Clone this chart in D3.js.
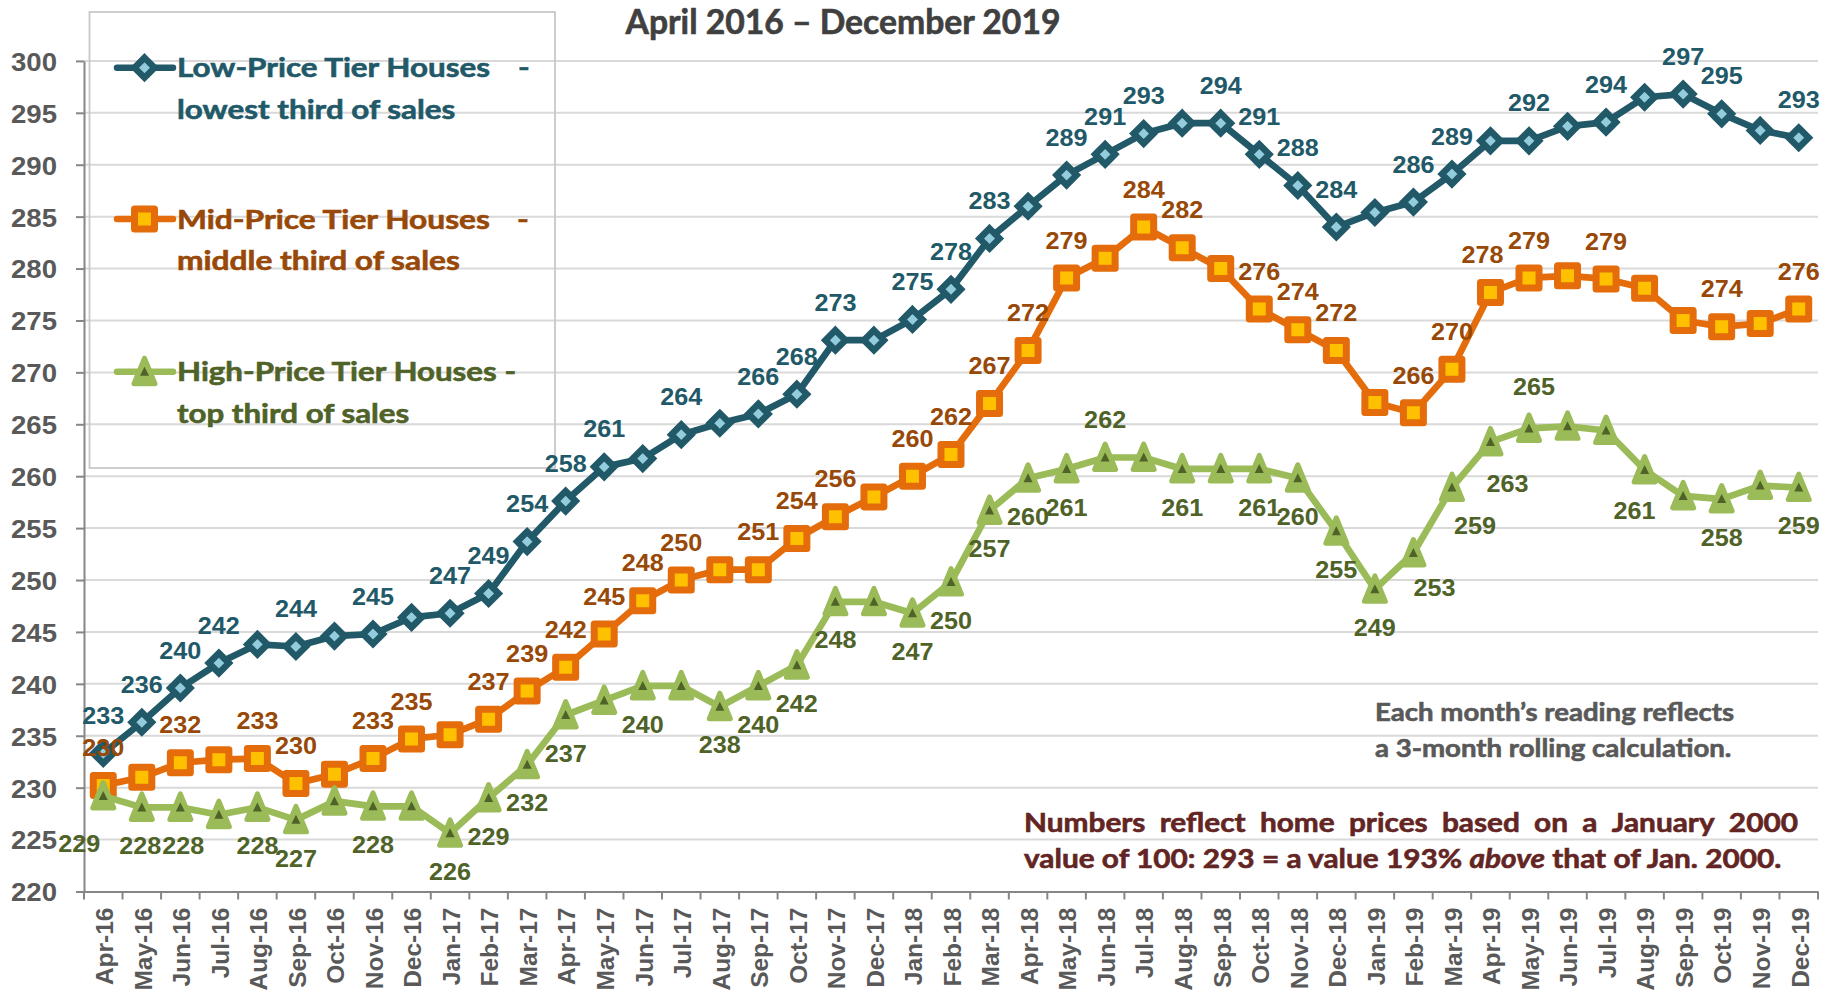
<!DOCTYPE html>
<html><head><meta charset="utf-8">
<script src="https://d3js.org/d3.v7.min.js"></script>
<style>body{margin:0;background:#fff}svg{display:block}</style>
</head><body>
<svg id="c" width="1835" height="999"></svg>
<script>
// ---------------- DATA ----------------
const months = ["Apr-16","May-16","Jun-16","Jul-16","Aug-16","Sep-16","Oct-16","Nov-16","Dec-16",
  "Jan-17","Feb-17","Mar-17","Apr-17","May-17","Jun-17","Jul-17","Aug-17","Sep-17","Oct-17","Nov-17","Dec-17",
  "Jan-18","Feb-18","Mar-18","Apr-18","May-18","Jun-18","Jul-18","Aug-18","Sep-18","Oct-18","Nov-18","Dec-18",
  "Jan-19","Feb-19","Mar-19","Apr-19","May-19","Jun-19","Jul-19","Aug-19","Sep-19","Oct-19","Nov-19","Dec-19"];
const lowValues = [233.3,236.3,239.6,242.0,243.8,243.6,244.6,244.8,246.4,246.8,248.7,253.7,257.6,260.9,261.7,
  264.0,265.1,266.0,267.9,273.1,273.1,275.1,278.0,282.9,286.0,289.0,291.0,293.0,294.0,294.0,291.0,288.0,284.0,
  285.4,286.4,289.1,292.3,292.3,293.7,294.1,296.5,296.8,294.9,293.3,292.6];
const midValues = [230.2,231.0,232.4,232.7,232.8,230.4,231.3,232.8,234.7,235.1,236.6,239.3,241.6,244.8,248.0,
  250.0,251.0,251.0,254.0,256.1,258.0,260.0,262.1,267.0,272.1,279.1,281.0,284.0,282.0,280.0,276.1,274.1,272.1,
  267.1,266.1,270.3,277.7,279.1,279.3,279.0,278.1,275.0,274.4,274.7,276.1];
const highValues = [229.2,228.1,228.1,227.4,228.1,226.9,228.7,228.2,228.2,225.6,229.0,232.2,237.0,238.4,239.8,
  239.8,237.8,239.8,241.8,247.9,247.9,246.8,249.8,256.7,259.8,260.7,261.8,261.8,260.7,260.7,260.7,259.8,254.7,
  249.1,252.6,258.9,263.3,264.6,264.8,264.4,260.6,258.1,257.8,259.1,258.9];
const yTickValues = [220,225,230,235,240,245,250,255,260,265,270,275,280,285,290,295,300];
const chartTitle = "April 2016 \u2013 December 2019";
const seriesNames = ["Low-Price Tier Houses", "Mid-Price Tier Houses", "High-Price Tier Houses -"];
const seriesSubNames = ["lowest third of sales", "middle third of sales", "top third of sales"];
const noteGray = ["Each month\u2019s reading reflects", "a 3-month rolling calculation."];
const noteRed1 = "Numbers reflect home prices based on a January 2000";
const noteRed2 = [["value of 100: 293 = a value 193% ", false], ["above", true], [" that of Jan. 2000.", false]];

// which points carry a value label (index), with relative placement tweaks
const lowLabelIdx = [0,1,2,3,5,7,9,10,11,12,13,15,17,18,19,21,22,23,25,26,27,29,30,31,32,34,35,37,39,41,42,44];
const midLabelIdx = [0,2,4,5,7,8,10,11,12,13,14,15,17,18,19,21,22,23,24,25,27,28,30,31,32,34,35,36,37,39,42,44];
const highLabelIdx = [0,1,2,4,5,7,9,10,11,12,14,16,17,18,19,21,22,23,24,25,26,28,30,31,32,33,34,35,36,37,40,42,44];
const labelTweaks = {
  mid: {36: [-8, -38]},
  high: {0: [-24, 47], 1: [-1.5, 38], 2: [3, 38], 26: [0, -38], 34: [21, 34], 35: [23, 38], 36: [17, 41], 37: [5, -42], 40: [-10, 40]}
};

// ---------------- DRAW ----------------
const ARIAL = "'Liberation Sans', Arial, sans-serif";
const CAL = "Lato, 'Open Sans', sans-serif";
const CAP = 0.7165; // Lato cap-height ratio
const svg = d3.select("#c");
const L = 84, R = 1818;
const x = d3.scaleBand().domain(months).range([L, R]);
const cx = m => x(m) + x.bandwidth() / 2;
const y = d3.scaleLinear().domain([220, 300]).range([891.5, 60.9]);

// size a Lato text by cap height, then squeeze horizontally to a target width
function capFit(sel, px, py, cap, width) {
  sel.attr("font-size", cap / CAP).attr("x", 0).attr("y", 0);
  const w = sel.node().getComputedTextLength();
  const sx = width / w;
  sel.attr("transform", `translate(${px},${py}) scale(${sx},1)`);
  return sx;
}
const heavy = (sel, col) => sel.attr("stroke", col).attr("stroke-width", 0.6).attr("paint-order", "stroke");

// gridlines
svg.append("g").selectAll("line").data(yTickValues.filter(v => v > 220)).join("line")
  .attr("x1", L).attr("x2", R).attr("y1", d => y(d)).attr("y2", d => y(d))
  .attr("stroke", "#d9d9d9").attr("stroke-width", 2);

// legend box
svg.append("rect").attr("x", 89.5).attr("y", 12).attr("width", 465.5).attr("height", 456)
  .attr("fill", "none").attr("stroke", "#c8c8c8").attr("stroke-width", 1.8);

// y axis
const ya = svg.append("g").attr("transform", `translate(${L},0)`)
  .call(d3.axisLeft(y).tickValues(yTickValues).tickSize(8).tickSizeOuter(0).tickPadding(19).tickFormat(d3.format("d")));
ya.select(".domain").attr("stroke", "#868686").attr("stroke-width", 2);
ya.selectAll(".tick line").attr("stroke", "#868686").attr("stroke-width", 2);
ya.selectAll(".tick text").attr("font-family", ARIAL).attr("font-size", 26).attr("font-weight", "bold")
  .attr("fill", "#595959").attr("dy", "0.36em")
  .attr("transform", "scale(1.06,1)").attr("x", -27 / 1.06);

// x axis
const xa = svg.append("g").attr("transform", `translate(0,${y(220)})`)
  .call(d3.axisBottom(x).tickSize(0).tickSizeOuter(0).tickPadding(0));
xa.select(".domain").attr("stroke", "#868686").attr("stroke-width", 2);
xa.selectAll(".tick text").attr("x", 0).attr("y", 0).attr("dy", "0.36em")
  .attr("transform", "translate(1,16) rotate(-90)").attr("text-anchor", "end")
  .attr("font-family", ARIAL).attr("font-size", 24.5).attr("font-weight", "bold").attr("fill", "#595959");
xa.append("g").selectAll("line").data(d3.range(months.length + 1)).join("line")
  .attr("x1", i => L + i * x.step()).attr("x2", i => L + i * x.step())
  .attr("y1", 0).attr("y2", 8).attr("stroke", "#868686").attr("stroke-width", 2);

// markers
const diamond = r => `M0,${-r}L${r},0L0,${r}L${-r},0Z`;
const square = s => `M${-s/2},${-s/2}H${s/2}V${s/2}H${-s/2}Z`;
const tri = (w, t, b) => `M0,${-t}L${w},${b}L${-w},${b}Z`;

const series = [
  {key: "low", values: lowValues, line: "#215968", lab: "#215968", idx: lowLabelIdx, dy: -38,
   marker: g => g.append("path").attr("d", diamond(10)).attr("fill", "#93cddd").attr("stroke", "#215968").attr("stroke-width", 6.5)},
  {key: "mid", values: midValues, line: "#e46c0a", lab: "#984807", idx: midLabelIdx, dy: -38,
   marker: g => g.append("path").attr("d", square(20)).attr("fill", "#ffc000").attr("stroke", "#e46c0a").attr("stroke-width", 7).attr("stroke-linejoin", "round")},
  {key: "high", values: highValues, line: "#9bbb59", lab: "#4f6228", idx: highLabelIdx, dy: 38,
   marker: g => { g.append("path").attr("d", tri(10.5, 13.5, 12)).attr("fill", "#9bbb59").attr("stroke", "#9bbb59").attr("stroke-width", 5).attr("stroke-linejoin", "round");
                  g.append("path").attr("d", tri(4.5, 5, 4)).attr("fill", "#4f6228"); }}
];

const lineGen = d3.line().x((d, i) => cx(months[i])).y(d => y(d));
series.forEach(s => {
  const g = svg.append("g");
  g.append("path").datum(s.values).attr("d", lineGen).attr("fill", "none")
    .attr("stroke", s.line).attr("stroke-width", 6.7).attr("stroke-linejoin", "round");
  g.selectAll("g.m").data(s.values).join("g").attr("class", "m")
    .attr("transform", (d, i) => `translate(${cx(months[i])},${y(d)})`)
    .each(function () { s.marker(d3.select(this)); });
});

// value labels
series.forEach(s => {
  const tw = labelTweaks[s.key] || {};
  svg.append("g").selectAll("text").data(s.idx).join("text")
    .attr("transform", i => `translate(${cx(months[i]) + (tw[i] ? tw[i][0] : 0)},${y(s.values[i]) + (tw[i] ? tw[i][1] : s.dy)}) scale(1.05,1)`)
    .attr("dy", "0.36em").attr("text-anchor", "middle")
    .attr("font-family", ARIAL).attr("font-size", 24).attr("font-weight", "bold").attr("fill", s.lab)
    .text(i => Math.round(s.values[i]));
});

// title
const t = svg.append("text").attr("text-anchor", "middle")
  .attr("font-family", CAL).attr("font-weight", "bold").attr("fill", "#404040").text(chartTitle);
capFit(t, 843, 34, 24, 435);
heavy(t, "#404040");

// legend
const legMarkY = [67.7, 219, 371.7];
const legDash = [518, 517, null];
const LCAP = 19.5;
series.forEach((s, k) => {
  const my = legMarkY[k];
  const g = svg.append("g");
  g.append("line").attr("x1", 117).attr("x2", 173).attr("y1", my).attr("y2", my)
    .attr("stroke", s.line).attr("stroke-width", 6.5).attr("stroke-linecap", "round");
  s.marker(g.append("g").attr("transform", `translate(144.5,${my})`));
  const t1 = g.append("text").attr("font-family", CAL).attr("font-weight", "bold").attr("fill", s.lab).text(seriesNames[k]);
  const sx = capFit(t1, 177, my + 9.5, LCAP, k === 2 ? 339 : 313);
  heavy(t1, s.lab);
  if (legDash[k]) t1.append("tspan").attr("x", (legDash[k] - 177) / sx).text("-");
  const t2 = g.append("text").attr("font-family", CAL).attr("font-weight", "bold").attr("fill", s.lab)
    .attr("font-size", LCAP / CAP).attr("transform", `translate(177,${my + 51}) scale(${sx},1)`).text(seriesSubNames[k]);
  heavy(t2, s.lab);
});

// gray note
const g1 = svg.append("text").attr("font-family", CAL).attr("font-weight", "bold").attr("fill", "#595959").text(noteGray[0]);
const gsx = capFit(g1, 1375, 720.5, 17.6, 359);
heavy(g1, "#595959");
heavy(svg.append("text").attr("font-family", CAL).attr("font-weight", "bold").attr("fill", "#595959")
  .attr("font-size", 17.6 / CAP).attr("transform", `translate(1375,756.5) scale(${gsx},1)`).text(noteGray[1]), "#595959");

// red note
const r2 = svg.append("text").attr("font-family", CAL).attr("font-weight", "bold")
  .attr("fill", "#632523").style("white-space", "pre");
noteRed2.forEach(([txt, it]) => r2.append("tspan").attr("font-style", it ? "italic" : null).text(txt));
const RCAP = 18.8;
const rsx = capFit(r2, 1024, 867.5, RCAP, 757);
heavy(r2, "#632523");
const rfs = RCAP / CAP;
const r1 = svg.append("text").attr("font-family", CAL).attr("font-weight", "bold")
  .attr("font-size", rfs).attr("fill", "#632523").attr("transform", `translate(1024,831.7) scale(${rsx},1)`);
heavy(r1, "#632523");
const words = noteRed1.split(" ");
const ww = words.map(w => {
  const tt = svg.append("text").attr("font-family", CAL).attr("font-weight", "bold").attr("font-size", rfs).text(w);
  const wd = tt.node().getComputedTextLength(); tt.remove(); return wd;
});
const gap = ((1798 - 1024) / rsx - d3.sum(ww)) / (words.length - 1);
let cur = 0;
words.forEach((w, i) => { r1.append("tspan").attr("x", cur).attr("y", 0).text(w); cur += ww[i] + gap; });
</script>
</body></html>
